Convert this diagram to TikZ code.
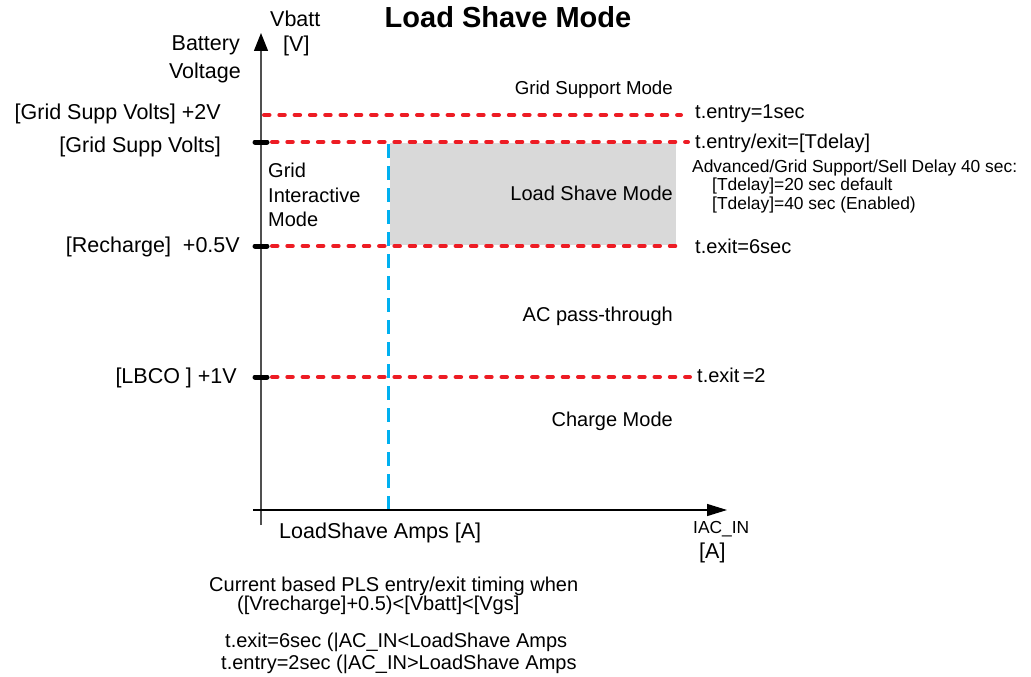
\documentclass[tikz,border=0pt]{standalone}
\usepackage{fontspec}
\setmainfont{Liberation Sans}
\usetikzlibrary{arrows.meta}
\begin{document}
\begin{tikzpicture}[x=1pt,y=-1pt,
  lbl/.style={inner sep=0pt,font=\fontsize{21.5}{24}\selectfont},
  mid/.style={inner sep=0pt,font=\fontsize{20}{22}\selectfont},
  sml/.style={inner sep=0pt,font=\fontsize{17.4}{19}\selectfont},
  reddash/.style={draw={rgb,255:red,237;green,28;blue,36},line width=4pt,line cap=round,dash pattern=on 5.5pt off 9.8pt},
  bluedash/.style={draw={rgb,255:red,0;green,176;blue,240},line width=3pt,dash pattern=on 14pt off 8pt},
  tick/.style={draw=black,line width=5pt,line cap=round},
  axis/.style={line width=1.4pt}]
\useasboundingbox (0,0) rectangle (1031,677);
% gray region
\fill[fill={rgb,255:red,217;green,217;blue,217}] (390,143) rectangle (676,245);
% coordinates
\coordinate (yb) at (261,525);
\coordinate (yt) at (261,33);
\coordinate (xl) at (253,510);
\coordinate (xr) at (727,510);
% red dashed levels
\coordinate (a1) at (264,115); \coordinate (b1) at (681,115);
\coordinate (a2) at (272,142); \coordinate (b2) at (688,142);
\coordinate (a3) at (272,246); \coordinate (b3) at (676,246);
\coordinate (a4) at (272,377); \coordinate (b4) at (690,377);
\draw[reddash] (a1) -- (b1);
\draw[reddash] (a2) -- (b2);
\draw[reddash] (a3) -- (b3);
\draw[reddash] (a4) -- (b4);
% blue dashed
\coordinate (c1) at (388,144); \coordinate (c2) at (388,510);
\draw[bluedash] (c1) -- (c2);
% axes
\draw[axis,draw={rgb,255:red,80;green,80;blue,80},-{Triangle[length=18pt,width=14pt,color=black]}] (yb) -- (yt);
\draw[axis,-{Triangle[length=20pt,width=12pt]}] (xl) -- (xr);
% ticks
\coordinate (t2a) at (255,142); \coordinate (t2b) at (267,142);
\coordinate (t3a) at (255,246); \coordinate (t3b) at (267,246);
\coordinate (t4a) at (255,377); \coordinate (t4b) at (267,377);
\draw[tick] (t2a) -- (t2b);
\draw[tick] (t3a) -- (t3b);
\draw[tick] (t4a) -- (t4b);
% title
\node[inner sep=0pt,anchor=base,font=\fontsize{29}{32}\selectfont\bfseries] (title) at (508,28) {Load Shave Mode};
% axis labels
\node[lbl,anchor=base west] (vbatt) at (270,27) {Vbatt};
\node[lbl,anchor=base west] (vunit) at (283,52) {[V]};
\node[lbl,anchor=base east] (batt) at (240,51) {Battery};
\node[lbl,anchor=base east] (volt) at (241,78) {Voltage};
\node[lbl,anchor=base east] (l1) at (221,119) {[Grid Supp Volts] +2V};
\node[lbl,anchor=base east] (l2) at (221,152) {[Grid Supp Volts]};
\node[lbl,anchor=base east] (l3) at (240,252) {[Recharge]\ \ +0.5V};
\node[lbl,anchor=base east] (l4) at (237,383) {[LBCO ] +1V};
\node[mid,anchor=base west] (gim1) at (268,177) {Grid};
\node[mid,anchor=base west] (gim2) at (268,202) {Interactive};
\node[mid,anchor=base west] (gim3) at (268,226) {Mode};
% region labels
\node[inner sep=0pt,anchor=base east,font=\fontsize{18.7}{20}\selectfont] (gsm) at (673,95) {Grid Support Mode};
\node[mid,anchor=base east] (lsm) at (673,200) {Load Shave Mode};
\node[mid,anchor=base east] (acp) at (673,321) {AC pass-through};
\node[mid,anchor=base east] (chg) at (673,426) {Charge Mode};
% right labels
\node[mid,anchor=base west] (r1) at (695,118) {t.entry=1sec};
\node[mid,anchor=base west] (r2) at (695,148) {t.entry/exit=[Tdelay]};
\node[sml,anchor=base west] (r3) at (692,172) {Advanced/Grid Support/Sell Delay 40 sec:};
\node[sml,anchor=base west] (r4) at (712,190) {[Tdelay]=20 sec default};
\node[sml,anchor=base west] (r5) at (712,209) {[Tdelay]=40 sec (Enabled)};
\node[mid,anchor=base west] (r6) at (695,253) {t.exit=6sec};
\node[mid,anchor=base west] (r7) at (697,382) {t.exit\,=2};
% x axis labels
\node[lbl,anchor=base west] (lsa) at (279,538) {LoadShave Amps [A]};
\node[sml,anchor=base west] (iac) at (693,533) {IAC\_IN};
\node[lbl,anchor=base west] (iacu) at (699,558) {[A]};
% bottom notes
\node[mid,anchor=base west] (n1) at (209,591) {Current based PLS entry/exit timing when};
\node[mid,anchor=base west] (n2) at (237,610) {([Vrecharge]+0.5)<[Vbatt]<[Vgs]};
\node[mid,anchor=base west] (n3) at (225,647) {t.exit=6sec (|AC\_IN<LoadShave Amps};
\node[mid,anchor=base west] (n4) at (221,669) {t.entry=2sec (|AC\_IN>LoadShave Amps};
\end{tikzpicture}
\end{document}
